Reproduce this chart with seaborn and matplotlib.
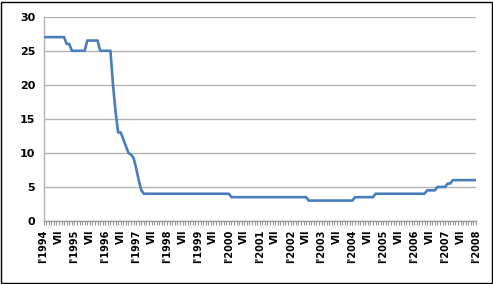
import numpy as np
import pandas as pd
import matplotlib
matplotlib.use("Agg")
import matplotlib.pyplot as plt
from matplotlib.patches import Rectangle
import seaborn as sns

# Monthly values, Jan 1994 .. Jan 2008
v1994 = [27, 27, 27, 27, 27, 27, 27, 27, 27, 26, 26, 25]
v1995 = [25, 25, 25, 25, 25, 26.5, 26.5, 26.5, 26.5, 26.5, 25, 25]
v1996 = [25, 25, 25, 20, 16, 13, 13, 12, 11, 10, 9.75, 9.25]
v1997 = [7.75, 6, 4.5, 4, 4, 4, 4, 4, 4, 4, 4, 4]
v1998 = [4, 4, 4, 4, 4, 4, 4, 4, 4, 4, 4, 4]
v1999 = [4, 4, 4, 4, 4, 4, 4, 4, 4, 4, 4, 4]
v2000 = [4, 3.5, 3.5, 3.5, 3.5, 3.5, 3.5, 3.5, 3.5, 3.5, 3.5, 3.5]
v2001 = [3.5, 3.5, 3.5, 3.5, 3.5, 3.5, 3.5, 3.5, 3.5, 3.5, 3.5, 3.5]
v2002 = [3.5, 3.5, 3.5, 3.5, 3.5, 3.5, 3.5, 3, 3, 3, 3, 3]
v2003 = [3, 3, 3, 3, 3, 3, 3, 3, 3, 3, 3, 3]
v2004 = [3, 3.5, 3.5, 3.5, 3.5, 3.5, 3.5, 3.5, 3.5, 4, 4, 4]
v2005 = [4, 4, 4, 4, 4, 4, 4, 4, 4, 4, 4, 4]
v2006 = [4, 4, 4, 4, 4, 4.5, 4.5, 4.5, 4.5, 5, 5, 5]
v2007 = [5, 5.5, 5.5, 6, 6, 6, 6, 6, 6, 6, 6, 6]
v2008 = [6]

values = (v1994 + v1995 + v1996 + v1997 + v1998 + v1999 + v2000 + v2001 +
          v2002 + v2003 + v2004 + v2005 + v2006 + v2007 + v2008)

years = list(range(1994, 2009))
tick_labels = []
for y in years:
    tick_labels.append("I'" + str(y))
    if y != 2008:
        tick_labels.append("VII")

y_ticks = [0, 5, 10, 15, 20, 25, 30]

df = pd.DataFrame({"month": np.arange(len(values)), "value": values})

sns.set_style("white")
plt.rcParams["font.family"] = ["DejaVu Sans"]

fig = plt.figure(figsize=(4.93, 2.84), dpi=100)
ax = fig.add_axes([43.5 / 493, 1 - 221 / 284, (476 - 43.5) / 493, (221 - 16.7) / 284])

sns.lineplot(data=df, x="month", y="value", ax=ax, color="#4A7EBB",
             linewidth=1.9, zorder=3)

n = len(values)
ax.set_xlim(0, n - 1)
ax.set_ylim(0, 30)
ax.set_yticks(y_ticks)
ax.set_yticklabels([str(t) for t in y_ticks], fontsize=8, fontweight="bold",
                   color="black")
ax.set_xticks(np.arange(0, n, 6))
ax.set_xticklabels(tick_labels, rotation=90, fontsize=7, fontweight="bold",
                   color="black")
ax.set_xticks(np.arange(n), minor=True)
ax.tick_params(axis="x", which="both", direction="out", length=3, width=0.8,
               color="#9A9A9A", pad=3, bottom=True)
ax.tick_params(axis="y", length=0, pad=6)
ax.set_xlabel("")
ax.set_ylabel("")
ax.grid(axis="y", color="#B3B3B3", linewidth=1.0)
ax.grid(axis="x", visible=False)
ax.set_axisbelow(True)
for s in ["top", "right"]:
    ax.spines[s].set_visible(False)
ax.spines["left"].set_color("#B3B3B3")
ax.spines["bottom"].set_color("#9A9A9A")
ax.spines["left"].set_linewidth(1.0)
ax.spines["bottom"].set_linewidth(1.0)

fig.patches.append(Rectangle((1 / 493, 1.5 / 284), 490.5 / 493, 281 / 284,
                             transform=fig.transFigure, fill=False,
                             edgecolor="black", linewidth=1.0))

fig.savefig("out.png", dpi=100)
